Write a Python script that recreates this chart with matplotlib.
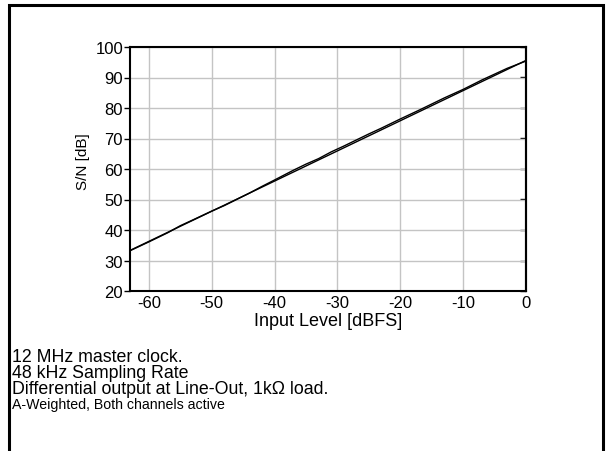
import numpy as np
import matplotlib.pyplot as plt
from matplotlib.patches import Rectangle

plt.rcParams['font.family'] = ['Liberation Sans', 'DejaVu Sans']
plt.rcParams['axes.unicode_minus'] = False

# straight reference curve
lvl_a = [-63, 0]
sn_a = [33.3, 95.6]

# measured curve (slightly wavy)
lvl_b = [-63, -60, -57, -55, -53, -50, -48, -44, -42, -40, -37, -35, -33, -31,
         -29, -27, -25, -23, -20, -17, -15, -13, -10, -7, -5, -3, 0]
sn_b = [33.2, 36.1, 39.1, 41.4, 43.3, 46.2, 48.0, 52.1, 54.3, 56.4, 59.6, 61.6, 63.4, 65.6,
        67.5, 69.5, 71.5, 73.4, 76.4, 79.3, 81.3, 83.3, 86.1, 89.2, 91.1, 93.0, 95.4]

xticks = [-60, -50, -40, -30, -20, -10, 0]
yticks = [20, 30, 40, 50, 60, 70, 80, 90, 100]

notes = ["12 MHz master clock.", "48 kHz Sampling Rate",
         "Differential output at Line-Out, 1k\u03a9 load."]
note_small = "A-Weighted, Both channels active"

fig = plt.figure(figsize=(6.08, 4.52), dpi=100)
ax = fig.add_axes([130/608, 1-292/452, (526-130)/608, (292-48)/452])

ax.plot(lvl_a, sn_a, color="black", lw=1.0)
ax.plot(lvl_b, sn_b, color="black", lw=1.0)

ax.set_xlim(-63, 0)
ax.set_ylim(20, 100)
ax.set_xticks(xticks)
ax.set_yticks(yticks)
ax.grid(True, color="#c4c4c4", lw=1.0)
ax.set_axisbelow(True)
ax.tick_params(axis="y", direction="out", length=4, width=1, labelsize=12, pad=1)
ax.tick_params(axis="x", length=0, labelsize=12, pad=3)
sec = ax.secondary_yaxis("right")
sec.set_yticks(yticks)
sec.tick_params(direction="in", length=4, width=1, labelright=False)
sec.spines["right"].set_linewidth(1.5)
for s in ax.spines.values():
    s.set_linewidth(1.5)
    s.set_color("black")
ax.set_xlabel("Input Level [dBFS]", fontsize=13, labelpad=1)
ax.set_ylabel("S/N [dB]", fontsize=11)
ax.yaxis.set_label_coords(-0.102, 0.535)

# outer frame, open at the bottom
fig.add_artist(Rectangle((8.5/608, -0.1), (603-8.5)/608, 1.1 - 5.5/452,
                         transform=fig.transFigure, fill=False, lw=2.2,
                         edgecolor="black", clip_on=False))

y0 = 358
for i, t in enumerate(notes):
    fig.text(12/608, 1-(y0 + i*16)/452, t, fontsize=12.8, va="center", ha="left")
fig.text(12/608, 1-(y0 + 3*16 - 1)/452, note_small, fontsize=10.2, va="center", ha="left")

fig.savefig("out.png", dpi=100)
